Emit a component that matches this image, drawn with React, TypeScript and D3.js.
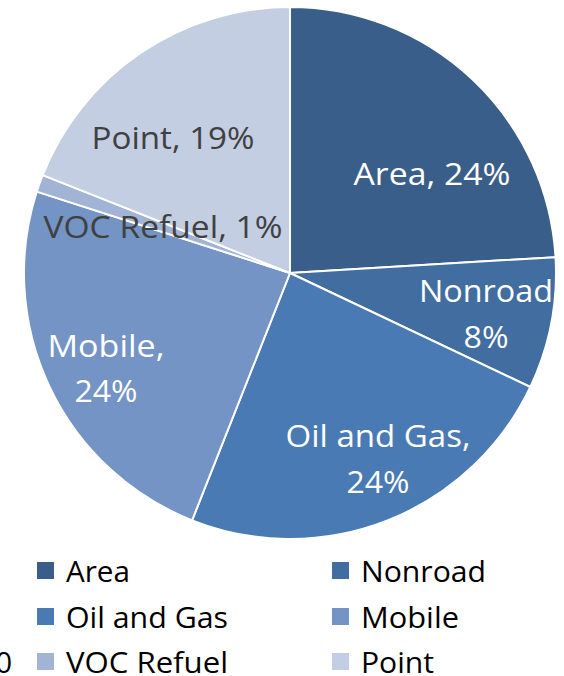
import React from "react";
import * as d3 from "d3";

const categories = ["Area", "Nonroad", "Oil and Gas", "Mobile", "VOC Refuel", "Point"];
const values = [24.05, 8.0, 23.95, 23.95, 1.05, 19.0];
const percentLabels = ["24%", "8%", "24%", "24%", "1%", "19%"];
const colors = ["#3A5E8A", "#426DA0", "#4A7AB4", "#7394C5", "#A1B4D6", "#C3CEE3"];

// label layout (lines, centers, baselines)
const labelLayout = [
  { lines: (c: string, p: string) => [`${c}, ${p}`], x: 432, y: [185], w: [157], fill: "#ffffff" },
  { lines: (c: string, p: string) => [c, p], x: 486, y: [302, 348], w: [134, 45], fill: "#ffffff" },
  { lines: (c: string, p: string) => [`${c},`, p], x: 378, y: [447, 493], w: [185, 63], fill: "#ffffff" },
  { lines: (c: string, p: string) => [`${c},`, p], x: 106, y: [357, 402], w: [117, 63], fill: "#ffffff" },
  { lines: (c: string, p: string) => [`${c}, ${p}`], x: 163, y: [238], w: [239], fill: "#404040" },
  { lines: (c: string, p: string) => [`${c}, ${p}`], x: 173, y: [149], w: [163], fill: "#404040" },
];

const legendTextWidths = [64, 125, 162, 98, 162, 73];

const W = 564, H = 676;
const cx = 290, cy = 273, R = 266;
const FONT = "'Open Sans', 'Liberation Sans', sans-serif";

export default function App() {
  const pie = d3.pie<number>().sort(null).value((d) => d)(values);
  const arc = d3.arc<d3.PieArcDatum<number>>().innerRadius(0).outerRadius(R);

  const legendCol = d3.scaleOrdinal<number, number>().domain([0, 1]).range([37, 332]);
  const legendRow = d3.scaleOrdinal<number, number>().domain([0, 1, 2]).range([571, 617, 662]);

  return (
    <svg
      width={W}
      height={H}
      style={{ position: "absolute", left: 0, top: 0, background: "#fff" }}
      fontFamily={FONT}
    >
      <g transform={`translate(${cx},${cy})`}>
        {pie.map((p, i) => (
          <path key={i} d={arc(p) || ""} fill={colors[i]} stroke="#fff" strokeWidth={2} strokeLinejoin="round" />
        ))}
      </g>
      {labelLayout.map((l, i) =>
        l.lines(categories[i], percentLabels[i]).map((t, j) => (
          <text
            key={`${i}-${j}`}
            x={l.x}
            y={l.y[j]}
            textAnchor="middle"
            fontSize={31}
            fill={l.fill}
            textLength={l.w[j]}
            lengthAdjust="spacingAndGlyphs"
          >
            {t}
          </text>
        ))
      )}
      {categories.map((c, i) => {
        const col = i % 2;
        const row = Math.floor(i / 2);
        const x = legendCol(col);
        const y = legendRow(row);
        return (
          <g key={c}>
            <rect x={x} y={y - 9} width={17} height={17} fill={colors[i]} />
            <text
              x={x + 29}
              y={y + 11}
              fontSize={29}
              fill="#000"
              textLength={legendTextWidths[i]}
              lengthAdjust="spacingAndGlyphs"
            >
              {c}
            </text>
          </g>
        );
      })}
      <text x={12} y={673} textAnchor="end" fontSize={29} fill="#000">0</text>
    </svg>
  );
}
